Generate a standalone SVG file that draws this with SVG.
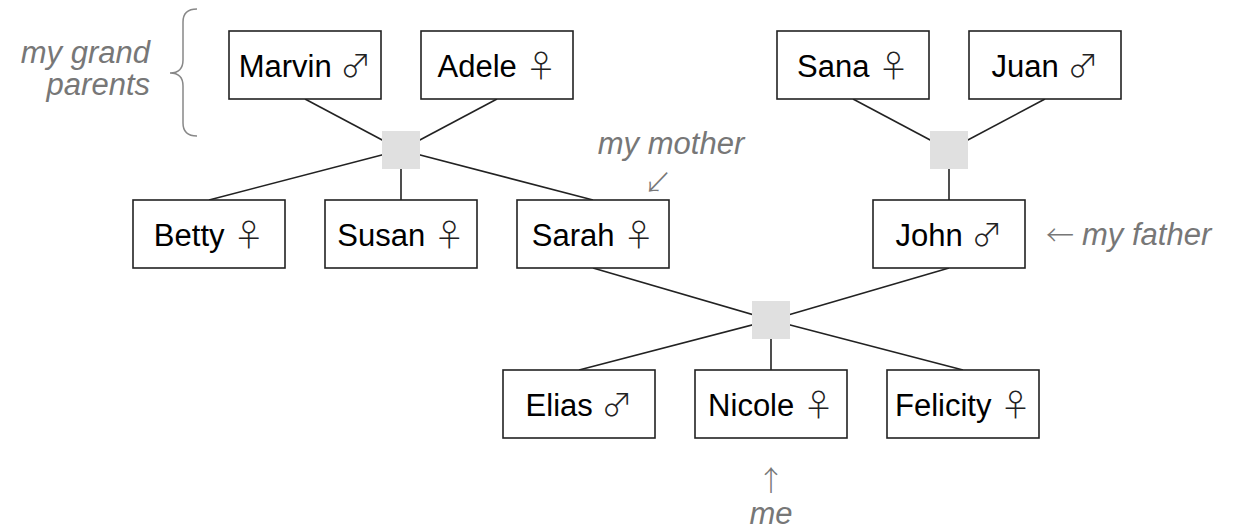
<svg xmlns="http://www.w3.org/2000/svg" width="1244" height="531" viewBox="0 0 1244 531">
<style>
.box{fill:#fff;stroke:#222;stroke-width:1.6}
.lbl{font-family:"Liberation Sans",Arial,"DejaVu Sans",sans-serif;font-size:31px;fill:#000;text-anchor:middle}
.sym{font-family:"Noto Sans CJK JP","DejaVu Sans",sans-serif;font-weight:300;font-size:31px;fill:#222}
.jn{fill:#e0e0e0;stroke:none}
.edge{stroke:#222;stroke-width:1.6;fill:none}
.note{font-family:"Liberation Sans",Arial,"DejaVu Sans",sans-serif;font-size:31px;font-style:italic;fill:#777}
.arr{font-family:"Noto Sans CJK JP","DejaVu Sans",sans-serif;font-weight:300;font-size:28px;fill:#777}
</style>
<rect width="1244" height="531" fill="#fff"/>
<g id="connectors">
<line class="edge" x1="305" y1="99" x2="401" y2="150"/>
<line class="edge" x1="497" y1="99" x2="401" y2="150"/>
<line class="edge" x1="401" y1="150" x2="209" y2="200"/>
<line class="edge" x1="401" y1="150" x2="401" y2="200"/>
<line class="edge" x1="401" y1="150" x2="593" y2="200"/>
<line class="edge" x1="853" y1="99" x2="949" y2="150"/>
<line class="edge" x1="1045" y1="99" x2="949" y2="150"/>
<line class="edge" x1="949" y1="150" x2="949" y2="200"/>
<line class="edge" x1="593" y1="268" x2="771" y2="320"/>
<line class="edge" x1="949" y1="268" x2="771" y2="320"/>
<line class="edge" x1="771" y1="320" x2="579" y2="370"/>
<line class="edge" x1="771" y1="320" x2="771" y2="370"/>
<line class="edge" x1="771" y1="320" x2="963" y2="370"/>
</g>
<g id="union1"><rect class="jn" x="382" y="131" width="38" height="38"/></g>
<g id="union2"><rect class="jn" x="930" y="131" width="38" height="38"/></g>
<g id="union3"><rect class="jn" x="752" y="301" width="38" height="38"/></g>
<g id="marvin"><rect class="box" x="229" y="31" width="152" height="68"/><text class="lbl" x="305" y="77">Marvin <tspan class="sym">♂</tspan></text></g>
<g id="adele"><rect class="box" x="421" y="31" width="152" height="68"/><text class="lbl" x="497" y="77">Adele <tspan class="sym">♀</tspan></text></g>
<g id="sana"><rect class="box" x="777" y="31" width="152" height="68"/><text class="lbl" x="853" y="77">Sana <tspan class="sym">♀</tspan></text></g>
<g id="juan"><rect class="box" x="969" y="31" width="152" height="68"/><text class="lbl" x="1045" y="77">Juan <tspan class="sym">♂</tspan></text></g>
<g id="betty"><rect class="box" x="133" y="200" width="152" height="68"/><text class="lbl" x="209" y="246">Betty <tspan class="sym">♀</tspan></text></g>
<g id="susan"><rect class="box" x="325" y="200" width="152" height="68"/><text class="lbl" x="401" y="246">Susan <tspan class="sym">♀</tspan></text></g>
<g id="sarah"><rect class="box" x="517" y="200" width="152" height="68"/><text class="lbl" x="593" y="246">Sarah <tspan class="sym">♀</tspan></text></g>
<g id="john"><rect class="box" x="873" y="200" width="152" height="68"/><text class="lbl" x="949" y="246">John <tspan class="sym">♂</tspan></text></g>
<g id="elias"><rect class="box" x="503" y="370" width="152" height="68"/><text class="lbl" x="579" y="416">Elias <tspan class="sym">♂</tspan></text></g>
<g id="nicole"><rect class="box" x="695" y="370" width="152" height="68"/><text class="lbl" x="771" y="416">Nicole <tspan class="sym">♀</tspan></text></g>
<g id="felicity"><rect class="box" x="887" y="370" width="152" height="68"/><text class="lbl" x="963" y="416">Felicity <tspan class="sym">♀</tspan></text></g>
<g id="annotations">
<text class="note" x="150" y="63" text-anchor="end">my grand</text>
<text class="note" x="150" y="95" text-anchor="end">parents</text>
<path d="M197,9 Q183,9 183,22 L183,60 Q183,73 170,73 Q183,73 183,86 L183,123 Q183,136 197,136" fill="none" stroke="#888" stroke-width="1.5"/>
<text class="note" x="671" y="154" text-anchor="middle">my mother</text>
<text class="arr" x="658" y="193" text-anchor="middle">↙</text>
<text class="arr" x="1046" y="246">←</text>
<text class="note" x="1082" y="245">my father</text>
<text class="arr" x="771" y="491" text-anchor="middle">↑</text>
<text class="note" x="771" y="524" text-anchor="middle">me</text>
</g>
</svg>
